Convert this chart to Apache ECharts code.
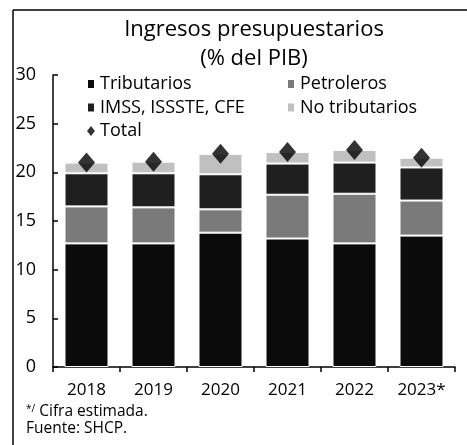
<!DOCTYPE html>
<html>
<head>
<meta charset="utf-8">
<script src="https://cdn.jsdelivr.net/npm/echarts@6/dist/echarts.min.js"></script>
<style>
  html, body { margin: 0; padding: 0; background: #fff; }
  #chart { width: 467px; height: 445px; }
</style>
</head>
<body>
<div id="chart"></div>
<script>
// datos (% del PIB)
const years = ['2018', '2019', '2020', '2021', '2022', '2023*']
const tributarios = [12.7, 12.7, 13.8, 13.2, 12.7, 13.5]
const petroleros = [3.8, 3.7, 2.4, 4.5, 5.1, 3.6]
const imss = [3.4, 3.5, 3.6, 3.2, 3.2, 3.4]
const noTributarios = [1.1, 1.2, 2.1, 1.2, 1.3, 1.0]
const total = [21.0, 21.1, 21.9, 22.1, 22.3, 21.5]
const yTicks = [0, 5, 10, 15, 20, 25, 30]

const font = '"Open Sans", sans-serif'
const chart = echarts.init(document.getElementById('chart'))

function barSeries(name, data, color) {
    return {
        name: name,
        type: 'bar',
        stack: 'ingresos',
        barWidth: 44,
        data: data,
        itemStyle: { color: color, borderColor: '#fff', borderWidth: 1 }
    }
}

const legendText = { fontFamily: font, fontSize: 18, color: '#000', lineHeight: 18 }

chart.setOption({
    backgroundColor: '#fff',
    animation: false,
    textStyle: { fontFamily: font, color: '#000' },
    title: {
        text: 'Ingresos presupuestarios\n(% del PIB)',
        left: 249,
        textAlign: 'center',
        top: 10,
        textStyle: { fontFamily: font, fontSize: 22, fontWeight: 'normal', color: '#000', lineHeight: 29 }
    },
    legend: [{
        orient: 'vertical',
        left: 81,
        top: 70,
        itemGap: 5.5,
        itemWidth: 8,
        itemHeight: 10,
        textStyle: legendText,
        data: [
            { name: 'Tributarios', icon: 'rect' },
            { name: 'IMSS, ISSSTE, CFE', icon: 'rect' },
            { name: 'Total', icon: 'diamond' }
        ]
    }, {
        orient: 'vertical',
        left: 281,
        top: 70,
        itemGap: 5.5,
        itemWidth: 8,
        itemHeight: 10,
        textStyle: legendText,
        data: [
            { name: 'Petroleros', icon: 'rect' },
            { name: 'No tributarios', icon: 'rect' }
        ]
    }],
    grid: { left: 53, right: 12, top: 75, bottom: 78 },
    xAxis: {
        type: 'category',
        data: years,
        axisLine: { lineStyle: { color: '#000', width: 1.5 } },
        axisTick: { show: true, length: 5, lineStyle: { color: '#000', width: 1.5 } },
        axisLabel: { margin: 15, fontSize: 17, color: '#000', fontFamily: font }
    },
    yAxis: {
        type: 'value',
        min: yTicks[0],
        max: yTicks[yTicks.length - 1],
        interval: 5,
        splitLine: { show: false },
        axisLine: { show: true, lineStyle: { color: '#000', width: 1.5 } },
        axisTick: { show: true, inside: true, length: 5, lineStyle: { color: '#000', width: 1.5 } },
        axisLabel: { margin: 17, fontSize: 18, color: '#000', fontFamily: font }
    },
    series: [
        barSeries('Tributarios', tributarios, '#0b0b0b'),
        barSeries('Petroleros', petroleros, '#7a7a7a'),
        barSeries('IMSS, ISSSTE, CFE', imss, '#1f1f1f'),
        barSeries('No tributarios', noTributarios, '#c0c0c0'),
        {
            name: 'Total',
            type: 'scatter',
            symbol: 'diamond',
            symbolSize: [17, 20],
            data: total,
            itemStyle: { color: '#000' },
            z: 5
        }
    ],
    graphic: [
        { type: 'line', shape: { x1: 13, y1: 10, x2: 467, y2: 10 }, style: { stroke: '#000', lineWidth: 1.5 } },
        { type: 'line', shape: { x1: 13, y1: 10, x2: 13, y2: 445 }, style: { stroke: '#000', lineWidth: 1.5 } },
        {
            type: 'text',
            left: 26,
            top: 404,
            style: {
                text: '{s|*/} Cifra estimada.',
                font: '15.5px ' + font,
                fill: '#000',
                rich: { s: { fontSize: 10, verticalAlign: 'top', fontFamily: font } }
            }
        },
        {
            type: 'text',
            left: 26,
            top: 421,
            style: { text: 'Fuente: SHCP.', font: '15.5px ' + font, fill: '#000' }
        }
    ]
})
</script>
</body>
</html>
